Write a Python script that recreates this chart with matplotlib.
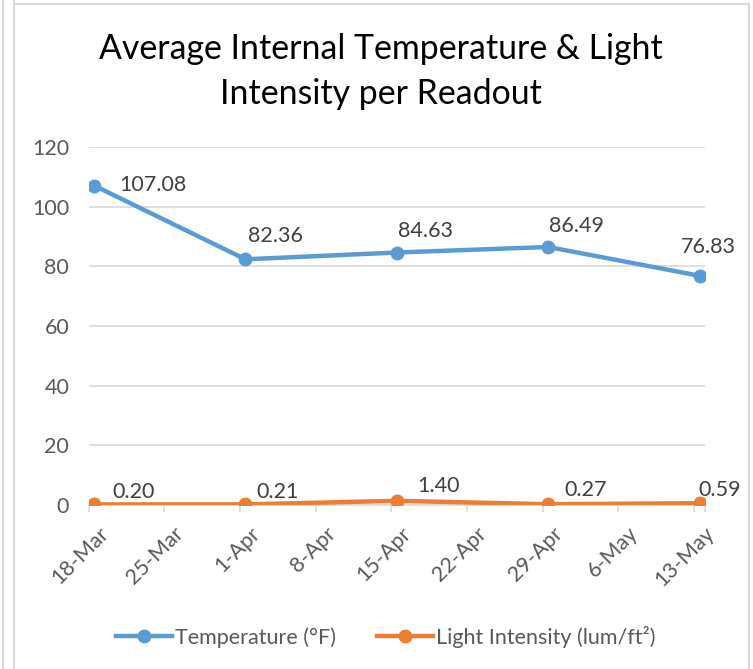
import matplotlib
matplotlib.use("Agg")
import matplotlib.pyplot as plt
import matplotlib.dates as mdates
import matplotlib.transforms as mtransforms
from matplotlib.lines import Line2D
import datetime as dt

# ---- data ----
dates = ["2021-03-18", "2021-04-01", "2021-04-15", "2021-04-29", "2021-05-13"]
temperature = [107.08, 82.36, 84.63, 86.49, 76.83]
light = [0.20, 0.21, 1.40, 0.27, 0.59]
tick_dates = ["2021-03-18", "2021-03-25", "2021-04-01", "2021-04-08", "2021-04-15",
              "2021-04-22", "2021-04-29", "2021-05-06", "2021-05-13"]
tick_labels = ["18-Mar", "25-Mar", "1-Apr", "8-Apr", "15-Apr", "22-Apr", "29-Apr", "6-May", "13-May"]
y_ticks = [0, 20, 40, 60, 80, 100, 120]
title = "Average Internal Temperature & Light\nIntensity per Readout"
series_names = ["Temperature (°F)", "Light Intensity (lum/ft²)"]

plt.rcParams['font.family'] = ['Lato', 'DejaVu Sans']

W, H = 753, 669
fig = plt.figure(figsize=(W / 100, H / 100), dpi=100)

def fx(px):
    return px / W

def fy(py):
    return 1 - py / H

ax = fig.add_axes([fx(88.6), fy(505), fx(705) - fx(88.6), fy(147) - fy(505)])

x = [mdates.date2num(dt.datetime.strptime(d, "%Y-%m-%d")) for d in dates]
xt = [mdates.date2num(dt.datetime.strptime(d, "%Y-%m-%d")) for d in tick_dates]

blue = "#5B9BD5"
orange = "#ED7D31"
txt = "#595959"
grid = "#D9D9D9"
fs = 15.5

ax.plot(x, temperature, color=blue, lw=3.2, marker="o", ms=9, zorder=3, solid_capstyle="round")
ax.plot(x, light, color=orange, lw=3.2, marker="o", ms=9, zorder=3, solid_capstyle="round")

ax.set_xlim(x[0] - 0.5, x[-1] + 0.5)
ax.set_ylim(0, 120)
ax.set_yticks(y_ticks)
ax.set_yticklabels([str(v) for v in y_ticks])
ax.yaxis.grid(True, color=grid, lw=1.2)
ax.set_axisbelow(True)
ax.tick_params(axis="y", length=0, pad=14, labelsize=fs, labelcolor=txt)

ax.set_xticks(xt)
ax.set_xticklabels(tick_labels, rotation=45, ha="right", va="top", rotation_mode="anchor")
ax.tick_params(axis="x", length=0, pad=13, labelsize=fs, labelcolor=txt)
shift = mtransforms.ScaledTranslation(4 / 100, 0, fig.dpi_scale_trans)
for lab in ax.get_xticklabels():
    lab.set_transform(lab.get_transform() + shift)
ax.set_xticks([v - 0.5 for v in xt] + [x[-1] + 0.5], minor=True)
ax.tick_params(axis="x", which="minor", length=5, width=1.2, color=grid, direction="out")

for s in ["top", "right", "left"]:
    ax.spines[s].set_visible(False)
ax.spines["bottom"].set_color(grid)
ax.spines["bottom"].set_linewidth(1.2)

# data labels (offsets in pixels -> points)
t_off = [(25, 1, "left"), (3, 23, "left"), (1, 22, "left"), (1, 21, "left"), (-19, 29, "left")]
l_off = [(18, 12, "left"), (11, 12, "left"), (20, 15, "left"), (16, 14, "left"), (-1, 13, "left")]
for xi, v, (dx, dy, ha) in zip(x, temperature, t_off):
    ax.annotate(f"{v:.2f}", (xi, v), xytext=(dx * 0.72, dy * 0.72), textcoords="offset points",
                ha=ha, va="center", fontsize=fs, color="#404040", zorder=4)
for xi, v, (dx, dy, ha) in zip(x, light, l_off):
    ax.annotate(f"{v:.2f}", (xi, v), xytext=(dx * 0.72, dy * 0.72), textcoords="offset points",
                ha=ha, va="center", fontsize=fs, color="#404040", zorder=4)

fig.text(fx(381), fy(71.5), title, ha="center", va="center", fontsize=24.4, color="#000000",
         linespacing=1.5)

handles = [Line2D([], [], color=blue, lw=3.2, marker="o", ms=9),
           Line2D([], [], color=orange, lw=3.2, marker="o", ms=9)]
fig.legend(handles, series_names, loc="center", bbox_to_anchor=(fx(385.5), fy(637)), ncol=2,
           frameon=False, fontsize=15.5, labelcolor=txt, handlelength=2.6, handletextpad=0.15,
           columnspacing=1.9)

# chart border lines
for xx in [2.5, 13.5]:
    fig.add_artist(Line2D([fx(xx), fx(xx)], [0, 1], color=grid, lw=1.5))
fig.add_artist(Line2D([fx(13.5), fx(749)], [fy(3.5), fy(3.5)], color=grid, lw=1.5))
fig.add_artist(Line2D([fx(749), fx(749)], [0, fy(3.5)], color=grid, lw=1.5))

fig.savefig("out.png", dpi=100)
